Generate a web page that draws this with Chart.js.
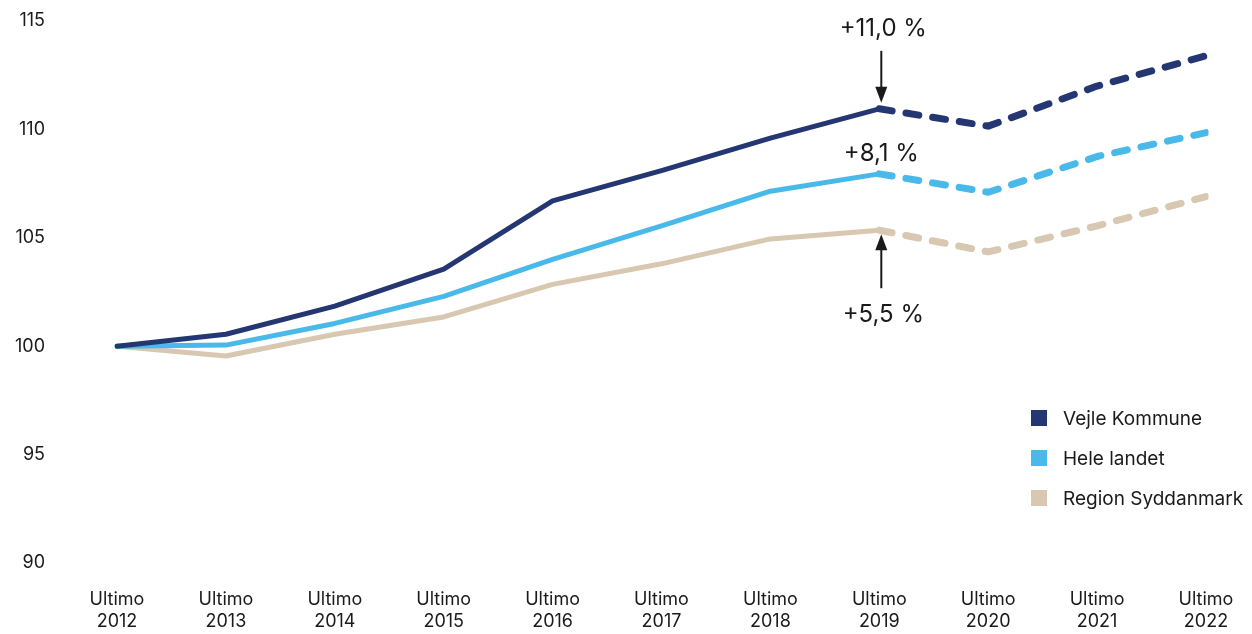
<!DOCTYPE html>
<html>
<head>
<meta charset="utf-8">
<script src="https://cdn.jsdelivr.net/npm/chart.js@4/dist/chart.umd.min.js"></script>
<style>
  html, body { margin: 0; padding: 0; background: #fff; }
  #wrap { width: 1252px; height: 634px; position: relative; }
</style>
</head>
<body>
<div id="wrap"><canvas id="chart"></canvas></div>
<script>
const years = ['2012', '2013', '2014', '2015', '2016', '2017', '2018', '2019', '2020', '2021', '2022'];
const vejle = [100, 100.55, 101.85, 103.55, 106.7, 108.1, 109.6, 110.95, 110.15, 112.0, 113.4];
const heleLandet = [100, 100.05, 101.05, 102.3, 104.0, 105.55, 107.15, 107.95, 107.1, 108.75, 109.85];
const region = [100, 99.55, 100.55, 101.35, 102.85, 103.8, 104.95, 105.35, 104.35, 105.55, 106.9];
const yTicks = [90, 95, 100, 105, 110, 115];
const changeLabels = ['+11,0 %', '+8,1 %', '+5,5 %'];
const forecastFrom = 7; // index of Ultimo 2019, dashed afterwards

const FONT = 'Inter, "DejaVu Sans", sans-serif';
const TEXT = '#1a1a1a';

function series(label, data, color) {
  return {
    label: label,
    data: data,
    borderColor: color,
    backgroundColor: color,
    borderWidth: 5,
    pointRadius: 0,
    tension: 0,
    borderCapStyle: 'round',
    borderJoinStyle: 'round',
    segment: {
      borderDash: ctx => ctx.p0DataIndex >= forecastFrom ? [13, 14] : undefined,
      borderWidth: ctx => ctx.p0DataIndex >= forecastFrom ? 7 : 5
    }
  };
}

// arrows + percentage labels at Ultimo 2019, and the legend in the lower right
const notes = {
  id: 'notes',
  afterDatasetsDraw(chart) {
    const { ctx, scales: { x, y } } = chart;
    const px = x.getPixelForValue(forecastFrom) + 2;
    ctx.save();
    ctx.fillStyle = TEXT;
    ctx.strokeStyle = TEXT;
    ctx.lineWidth = 2;
    ctx.font = '24px ' + FONT;
    ctx.textAlign = 'center';
    ctx.textBaseline = 'middle';

    const top = y.getPixelForValue(vejle[forecastFrom]);
    const mid = y.getPixelForValue(heleLandet[forecastFrom]);
    const low = y.getPixelForValue(region[forecastFrom]);

    ctx.fillText(changeLabels[0], px + 2, top - 80);
    arrow(ctx, px, top - 58, top - 6);
    ctx.fillText(changeLabels[1], px, mid - 20);
    ctx.fillText(changeLabels[2], px + 2, low + 85);
    arrow(ctx, px, low + 58, low + 4);

    // legend
    ctx.font = '19px ' + FONT;
    ctx.textAlign = 'left';
    chart.data.datasets.forEach((ds, i) => {
      const ly = 418 + i * 40;
      ctx.fillStyle = ds.borderColor;
      ctx.fillRect(1031, ly - 8, 16, 16);
      ctx.fillStyle = TEXT;
      ctx.fillText(ds.label, 1063, ly + 1);
    });
    ctx.restore();
  }
};

function arrow(ctx, x, from, to) {
  const dir = to > from ? 1 : -1;
  ctx.beginPath();
  ctx.moveTo(x, from);
  ctx.lineTo(x, to - dir * 14);
  ctx.stroke();
  ctx.beginPath();
  ctx.moveTo(x, to);
  ctx.lineTo(x - 6, to - dir * 16);
  ctx.lineTo(x + 6, to - dir * 16);
  ctx.closePath();
  ctx.fill();
}

new Chart(document.getElementById('chart'), {
  type: 'line',
  data: {
    labels: years.map(yr => ['Ultimo', yr]),
    datasets: [
      series('Vejle Kommune', vejle, '#243772'),
      series('Hele landet', heleLandet, '#49b9e9'),
      series('Region Syddanmark', region, '#d8c7b1')
    ]
  },
  options: {
    responsive: true,
    maintainAspectRatio: false,
    animation: false,
    layout: { padding: { top: 21, right: 46, left: 0, bottom: 0 } },
    plugins: {
      legend: { display: false },
      tooltip: { enabled: false }
    },
    elements: { line: { clip: false } },
    scales: {
      x: {
        offset: false,
        grid: { display: false, drawTicks: false },
        border: { display: false },
        ticks: {
          color: TEXT,
          font: { family: FONT, size: 18, lineHeight: 1.2 },
          padding: 26,
          maxRotation: 0,
          autoSkip: false
        },
        afterFit: scale => {
          scale.height = 71;
          scale.paddingLeft = 0;
          scale.paddingRight = 0;
        }
      },
      y: {
        min: 90,
        max: 115,
        afterBuildTicks: scale => { scale.ticks = yTicks.map(v => ({ value: v })); },
        grid: { display: false, drawTicks: false },
        border: { display: false },
        ticks: {
          color: TEXT,
          font: { family: FONT, size: 18 },
          padding: 72
        },
        afterFit: scale => {
          scale.width = 117;
          scale.paddingTop = 0;
          scale.paddingBottom = 0;
        }
      }
    }
  },
  plugins: [notes]
});
</script>
</body>
</html>
